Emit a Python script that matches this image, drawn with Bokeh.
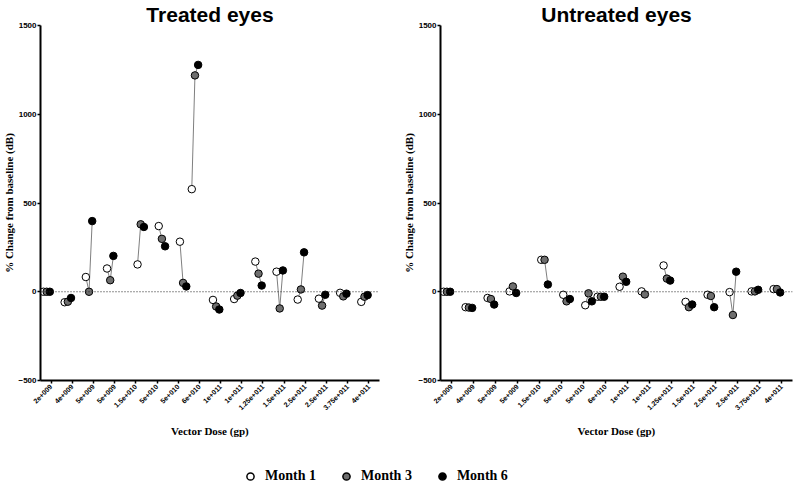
import math
import numpy as np
from bokeh.plotting import figure
from bokeh.models import Range1d, FixedTicker, Span, Legend, LegendItem
from bokeh.layouts import column, row
from bokeh.embed import file_html
from bokeh.resources import INLINE

# ---------------- data ----------------
dose_labels = ["2e+009", "4e+009", "5e+009", "5e+009", "1.5e+010", "5e+010", "5e+010",
               "6e+010", "1e+011", "1e+011", "1.25e+011", "1.5e+011", "2.5e+011",
               "2.5e+011", "3.75e+011", "4e+011"]
months = ["Month 1", "Month 3", "Month 6"]

treated_m1 = [0, -59, 83, 131, 154, 370, 282, 578, -46, -41, 170, 113, -44, -39, -6, -57]
treated_m3 = [0, -56, 0, 65, 380, 298, 50, 1219, -83, -22, 102, -94, 13, -78, -26, -28]
treated_m6 = [0, -35, 398, 202, 365, 256, 30, 1278, -100, -7, 35, 120, 222, -17, -11, -19]

untreated_m1 = [0, -87, -35, 2, 180, -17, -76, -28, 28, 2, 148, -57, -17, -2, 2, 15]
untreated_m3 = [0, -89, -41, 30, 180, -54, -9, -28, 85, -15, 74, -87, -24, -131, 2, 15]
untreated_m6 = [0, -91, -72, -7, 41, -41, -54, -28, 56, None, 63, -72, -87, 113, 11, -4]

# ---------------- style / layout ----------------
month_offset = [-0.36, -0.21, -0.06]
group_shift = [0, 0, 0, 0, 0.44, 0.44, 0.44, 0, 0, 0, 0, 0, 0, 0, 0, 0]
fills = ["white", "#6e6e6e", "black"]
SANS = "Liberation Sans"
SERIF = "Liberation Serif"


def make_panel(title, series, width, border_right, title_offset):
    p = figure(width=width, height=440,
               x_range=Range1d(0.5, 16.5), y_range=Range1d(-500, 1500),
               min_border_left=39, min_border_right=border_right,
               min_border_top=0, min_border_bottom=57,
               output_backend="svg", toolbar_location=None)
    p.outline_line_color = None
    p.grid.visible = False
    p.background_fill_color = "white"

    p.title.text = title
    p.title.align = "center"
    p.title.offset = title_offset
    p.title.standoff = 0
    p.title.text_font = SANS
    p.title.text_font_style = "bold"
    p.title.text_font_size = "21px"
    p.title.text_color = "black"

    # axes
    p.xaxis.ticker = FixedTicker(ticks=list(range(1, 17)))
    p.xaxis.major_label_overrides = {i + 1: lab for i, lab in enumerate(dose_labels)}
    p.xaxis.major_label_orientation = math.pi / 4
    p.xaxis.major_label_text_font_size = "7px"
    p.xaxis.major_label_standoff = 2
    p.xaxis.axis_label = "Vector Dose (gp)"
    p.xaxis.axis_label_standoff = 10
    p.yaxis.ticker = FixedTicker(ticks=[-500, 0, 500, 1000, 1500])
    p.yaxis.major_label_text_font_size = "8px"
    p.yaxis.major_label_standoff = 1
    p.yaxis.axis_label = "% Change from baseline (dB)"
    p.yaxis.axis_label_standoff = 0
    for ax in (p.xaxis, p.yaxis):
        ax.axis_line_width = 2
        ax.axis_line_color = "black"
        ax.major_tick_line_width = 1.5
        ax.major_tick_line_color = "black"
        ax.major_tick_in = 0
        ax.major_tick_out = 3
        ax.minor_tick_line_color = None
        ax.major_label_text_font = SANS
        ax.major_label_text_font_style = "bold"
        ax.major_label_text_color = "black"
        ax.axis_label_text_font = SERIF
        ax.axis_label_text_font_style = "bold"
        ax.axis_label_text_font_size = "11px"
        ax.axis_label_text_color = "black"

    p.add_layout(Span(location=0, dimension="width", line_color="#222222",
                      line_width=1, line_dash="1 2"))

    # connecting lines per dose group
    xs, ys = [], []
    for i in range(len(dose_labels)):
        gx, gy = [], []
        for m, vals in enumerate(series):
            if vals[i] is not None:
                gx.append(i + 1 + month_offset[m] + group_shift[i])
                gy.append(vals[i])
        xs.append(gx)
        ys.append(gy)
    p.multi_line(xs, ys, line_color="#7f7f7f", line_width=1)

    for m, vals in enumerate(series):
        px = [i + 1 + month_offset[m] + group_shift[i] for i, v in enumerate(vals) if v is not None]
        py = [v for v in vals if v is not None]
        p.scatter(px, py, marker="circle", size=7.5, fill_color=fills[m],
                  line_color="black", line_width=1)
    return p


p1 = make_panel("Treated eyes", [treated_m1, treated_m3, treated_m6], 400, 21, -4)
p2 = make_panel("Untreated eyes", [untreated_m1, untreated_m3, untreated_m6], 400, 8, 21)

# legend strip (proxy glyphs sit outside the visible range)
pl = figure(width=800, height=50, x_range=Range1d(0, 1), y_range=Range1d(0, 1),
            min_border=0, output_backend="svg", toolbar_location=None,
            x_axis_location=None, y_axis_location=None)
pl.outline_line_color = None
pl.grid.visible = False
items = []
for m in range(3):
    r = pl.scatter([-10], [-10], marker="circle", size=7, fill_color=fills[m],
                   line_color="black", line_width=1.5)
    items.append(LegendItem(label=months[m], renderers=[r]))
leg = Legend(items=items, orientation="horizontal", location=(241, 5),
             glyph_width=18, glyph_height=18, label_standoff=6, spacing=21,
             padding=0, margin=0, border_line_color=None, background_fill_alpha=0,
             label_text_font=SERIF, label_text_font_style="bold",
             label_text_font_size="14px", label_text_color="black")
pl.add_layout(leg)

layout = column(row(p1, p2), pl)
open("out.html", "w").write(file_html(layout, INLINE))
